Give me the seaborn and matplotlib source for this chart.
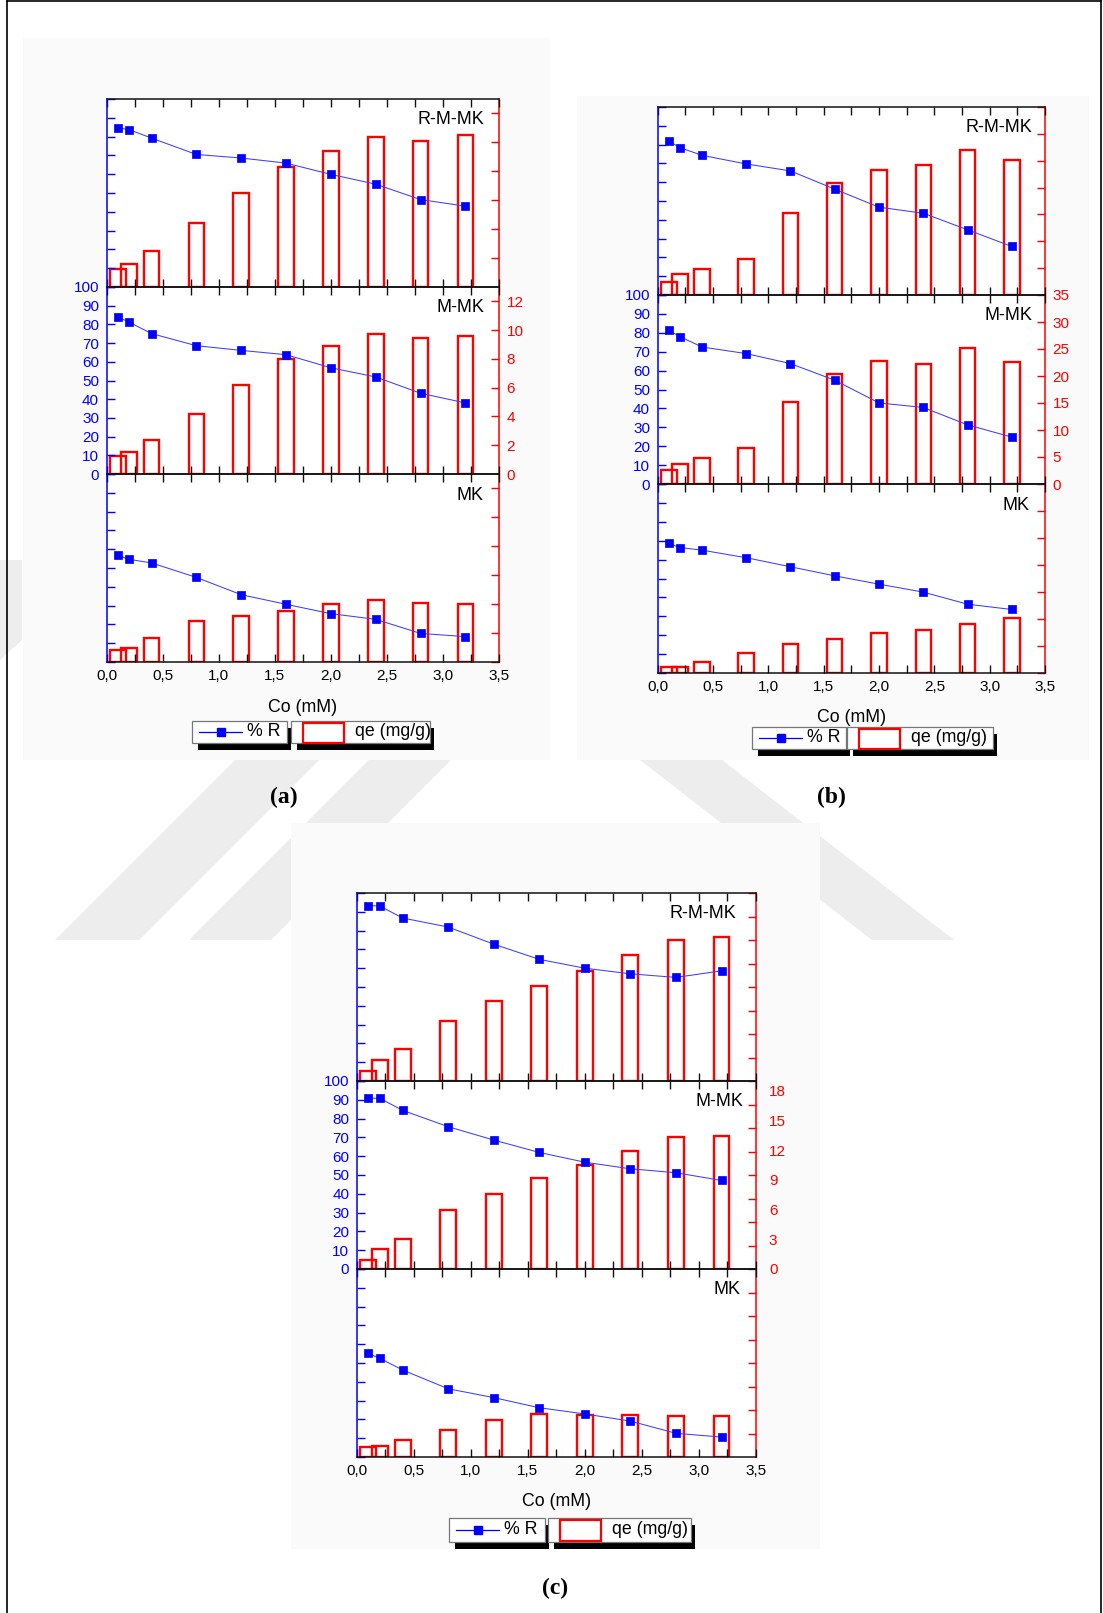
import numpy as np
import seaborn as sns
import matplotlib
matplotlib.use("Agg")
import matplotlib.pyplot as plt
from matplotlib.patches import Rectangle, Polygon
from matplotlib.lines import Line2D
from matplotlib.ticker import MultipleLocator, FixedLocator, FuncFormatter

# ---------------- data ----------------
co = [0.1, 0.2, 0.4, 0.8, 1.2, 1.6, 2.0, 2.4, 2.8, 3.2]

a_rmmk_R = [84.7, 83.7, 79.2, 70.5, 68.6, 65.9, 59.9, 54.7, 46.5, 43.0]
a_rmmk_qe = [1.22, 1.59, 2.49, 4.41, 6.47, 8.27, 9.38, 10.35, 10.09, 10.51]
a_mmk_R = [84.0, 81.2, 75.1, 68.6, 66.1, 63.8, 56.8, 51.9, 43.2, 38.0]
a_mmk_qe = [1.22, 1.50, 2.38, 4.20, 6.21, 7.99, 8.89, 9.72, 9.47, 9.56]
a_mk_R = [56.7, 54.6, 52.7, 45.0, 35.8, 30.7, 25.7, 22.7, 15.2, 13.5]
a_mk_qe = [0.85, 0.97, 1.64, 2.86, 3.20, 3.55, 4.03, 4.29, 4.06, 3.99]

b_rmmk_R = [81.9, 78.4, 74.3, 69.7, 66.0, 56.3, 46.7, 43.5, 34.7, 25.8]
b_rmmk_qe = [2.48, 3.84, 4.77, 6.63, 15.24, 20.88, 23.23, 24.16, 27.08, 25.15]
b_mmk_R = [81.3, 78.0, 72.5, 69.0, 63.7, 54.9, 42.9, 40.5, 31.3, 24.8]
b_mmk_qe = [2.65, 3.76, 4.87, 6.59, 15.1, 20.4, 22.7, 22.2, 25.1, 22.6]
b_mk_R = [68.6, 66.4, 65.0, 61.0, 56.2, 51.4, 47.0, 42.8, 36.4, 33.6]
b_mk_qe = [1.05, 1.11, 1.98, 3.65, 5.38, 6.37, 7.36, 7.98, 9.09, 10.14]

c_rmmk_R = [93.3, 93.1, 86.7, 81.9, 72.8, 64.7, 60.0, 57.0, 55.1, 58.6]
c_rmmk_qe = [1.05, 2.09, 3.24, 6.07, 8.10, 9.62, 11.14, 12.69, 14.28, 14.58]
c_mmk_R = [90.9, 90.8, 84.4, 75.7, 68.6, 62.0, 56.8, 53.3, 51.2, 47.1]
c_mmk_qe = [0.94, 1.99, 3.07, 5.94, 7.59, 9.18, 10.50, 11.91, 13.33, 13.47]
c_mk_R = [55.1, 52.5, 46.3, 36.3, 31.6, 26.2, 22.9, 19.1, 12.6, 10.6]
c_mk_qe = [1.01, 1.15, 1.72, 2.70, 3.74, 4.35, 4.25, 4.25, 4.11, 4.11]

sample_labels = ["R-M-MK", "M-MK", "MK"]
panel_labels = ["(a)", "(b)", "(c)"]
x_label = "Co (mM)"
legend_labels = ["% R", "qe (mg/g)"]

# ---------------- style ----------------
plt.rcParams['font.family'] = ['Liberation Sans', 'DejaVu Sans']
W, H = 1103, 1613
fig = plt.figure(figsize=(W / 100, H / 100), dpi=100)
fig.patch.set_facecolor('white')

BLUE = '#0000ff'
RED = '#ff0000'
TICK_FS = 11


def fr(x0, y0, x1, y1):
    return [x0 / W, 1 - y1 / H, (x1 - x0) / W, (y1 - y0) / H]


def add_rect(x0, y0, x1, y1, **kw):
    r = Rectangle((x0 / W, 1 - y1 / H), (x1 - x0) / W, (y1 - y0) / H,
                  transform=fig.transFigure, **kw)
    fig.add_artist(r)
    return r


# watermark (faint) and panel backgrounds
wm_color = '#ededed'
for poly in ([(55, 940), (139, 940), (319, 760), (235, 760)],
             [(189, 940), (271, 940), (451, 760), (369, 760)],
             [(640, 760), (722, 760), (954, 940), (872, 940)],
             [(0, 560), (22, 560), (22, 640), (0, 660)]):
    fig.add_artist(Polygon([(x / W, 1 - y / H) for x, y in poly], closed=True,
                           transform=fig.transFigure, facecolor=wm_color,
                           edgecolor='none', zorder=-20))

for (x0, y0, x1, y1) in [(23, 38, 550, 760), (577, 96, 1089, 760), (291, 823, 820, 1549)]:
    add_rect(x0, y0, x1, y1, facecolor='#fafafa', edgecolor='none', zorder=-10)

# page border
for (xa, ya, xb, yb) in [(7, 0.8, 7, H), (7, 0.8, 1101, 0.8), (1101, 0.8, 1101, H)]:
    fig.add_artist(Line2D([xa / W, xb / W], [1 - ya / H, 1 - yb / H], transform=fig.transFigure,
                          color='black', lw=1.2))

panels = [
    dict(x0=106.7, x1=499.0, ys=[99, 287, 474, 662], qmax=13, qstep=2, qmarks=None,
         data=[(a_rmmk_R, a_rmmk_qe), (a_mmk_R, a_mmk_qe), (a_mk_R, a_mk_qe)],
         insets=[15, 15, 15], leg=(192, 287, 291, 430, 720.7, 743), tag=(284, 797)),
    dict(x0=657.7, x1=1045.0, ys=[107, 295, 484, 673], qmax=35, qstep=5, qmarks=None,
         data=[(b_rmmk_R, b_rmmk_qe), (b_mmk_R, b_mmk_qe), (b_mk_R, b_mk_qe)],
         insets=[13, 13, 15], leg=(752.3, 846, 847.3, 992.7, 726.7, 749.3), tag=(831.6, 797)),
    dict(x0=357.0, x1=755.7, ys=[893, 1081, 1269, 1457], qmax=19, qstep=3, qmarks=9,
         data=[(c_rmmk_R, c_rmmk_qe), (c_mmk_R, c_mmk_qe), (c_mk_R, c_mk_qe)],
         insets=[19, 12, 15], leg=(449.3, 545, 548.3, 691, 1518.3, 1541.7), tag=(555, 1588)),
]

xfmt = FuncFormatter(lambda v, p: f"{v:.1f}".replace('.', ','))

for pi, P in enumerate(panels):
    x0, x1 = P['x0'], P['x1']
    for r in range(3):
        ytop, ybot = P['ys'][r], P['ys'][r + 1]
        ax = fig.add_axes(fr(x0, ytop, x1, ybot))
        tw = ax.twinx()
        R, qe = P['data'][r]

        sns.barplot(x=co, y=qe, ax=tw, native_scale=True, orient='x', width=1.4,
                    fill=False, color=RED, linewidth=1.7, errorbar=None)
        for patch in tw.patches:
            patch.set_edgecolor(RED)
            patch.set_facecolor('none')
            patch.set_linewidth(1.7)
        sns.lineplot(x=co, y=R, ax=ax, color='#3d3dff', lw=0.75, marker='s', markersize=6,
                     markerfacecolor=BLUE, markeredgecolor=BLUE, markeredgewidth=0.5)

        ax.set_zorder(tw.get_zorder() + 1)
        ax.patch.set_visible(False)
        tw.patch.set_visible(True)
        tw.patch.set_facecolor('white')

        ax.set_xlim(0, 3.5)
        ax.set_ylim(0, 100)
        tw.set_ylim(0, P['qmax'])
        ax.set_xlabel('')
        ax.set_ylabel('')
        tw.set_ylabel('')
        tw.set_xlabel('')

        # spines
        for s in ['top', 'bottom']:
            ax.spines[s].set_color('#111111')
            ax.spines[s].set_linewidth(1.1)
        ax.spines['left'].set_color(BLUE)
        ax.spines['left'].set_linewidth(1.1)
        ax.spines['right'].set_visible(False)
        for s in ['left', 'top', 'bottom']:
            tw.spines[s].set_visible(False)
        tw.spines['right'].set_color(RED)
        tw.spines['right'].set_linewidth(1.1)

        # x ticks
        ax.xaxis.set_major_locator(MultipleLocator(0.5))
        ax.xaxis.set_minor_locator(MultipleLocator(0.25))
        ax.xaxis.set_major_formatter(xfmt)
        ax.tick_params(axis='x', which='both', direction='in', top=True, bottom=True,
                       length=5.5, width=1.0, color='#111111', labelsize=TICK_FS,
                       labelbottom=(r == 2), labeltop=False, pad=5)

        # left y ticks
        ax.yaxis.set_major_locator(MultipleLocator(10))
        ax.tick_params(axis='y', which='both', direction='in', left=True, right=False,
                       length=6, width=1.0, color=BLUE, labelcolor=BLUE, labelsize=TICK_FS,
                       labelleft=(r == 1), pad=5.5)

        # right y ticks
        tw.yaxis.set_major_locator(MultipleLocator(P['qstep']))
        if P['qmarks'] is None:
            tw.tick_params(axis='y', which='major', direction='in', length=6, width=1.0,
                           color=RED, labelcolor=RED, labelsize=TICK_FS,
                           labelright=(r == 1), pad=5.5)
        else:
            tw.yaxis.set_minor_locator(FixedLocator(np.linspace(0, P['qmax'], P['qmarks'])))
            tw.tick_params(axis='y', which='major', direction='in', length=0, width=1.0,
                           color=RED, labelcolor=RED, labelsize=TICK_FS,
                           labelright=(r == 1), pad=9.5)
            tw.tick_params(axis='y', which='minor', direction='in', length=6, width=1.0,
                           color=RED)

        ax.text(1 - P['insets'][r] / (x1 - x0), 1 - 12.5 / (ybot - ytop), sample_labels[r],
                transform=ax.transAxes, ha='right', va='top', fontsize=13, color='black')

    # x label
    cx = (x0 + x1) / 2
    fig.text(cx / W, 1 - (P['ys'][3] + 45) / H, x_label, ha='center', va='center',
             fontsize=12.8, color='black')

    # legend boxes
    b1l, b1r, b2l, b2r, lt, lb = P['leg']
    for (l, rr) in [(b1l, b1r), (b2l, b2r)]:
        add_rect(l + 6, lt + 7, rr + 4, lb + 7, facecolor='black', edgecolor='none', zorder=5)
        add_rect(l, lt, rr, lb, facecolor='white', edgecolor='#777777', lw=0.9, zorder=6)
    cy = (lt + lb) / 2
    fig.add_artist(Line2D([(b1l + 7) / W, (b1l + 50) / W], [1 - cy / H, 1 - cy / H],
                          transform=fig.transFigure, color=BLUE, lw=0.9, zorder=7))
    fig.add_artist(Line2D([(b1l + 29) / W], [1 - cy / H], transform=fig.transFigure,
                          color=BLUE, marker='s', markersize=6, lw=0, zorder=8))
    fig.text((b1l + 55) / W, 1 - cy / H, legend_labels[0], ha='left', va='center',
             fontsize=12.8, color='black', zorder=8)
    add_rect(b2l + 11.7, lt + 2, b2l + 53, lb - 0.5, facecolor='white', edgecolor=RED,
             lw=1.6, zorder=7)
    fig.text((b2l + 64) / W, 1 - cy / H, legend_labels[1], ha='left', va='center',
             fontsize=12.8, color='black', zorder=8)

    # panel tag
    fig.text(P['tag'][0] / W, 1 - P['tag'][1] / H, panel_labels[pi], ha='center', va='center',
             fontsize=17, fontweight='bold', family=['Liberation Serif', 'DejaVu Serif'],
             color='black')

fig.savefig('out.png', dpi=100, facecolor='white')
